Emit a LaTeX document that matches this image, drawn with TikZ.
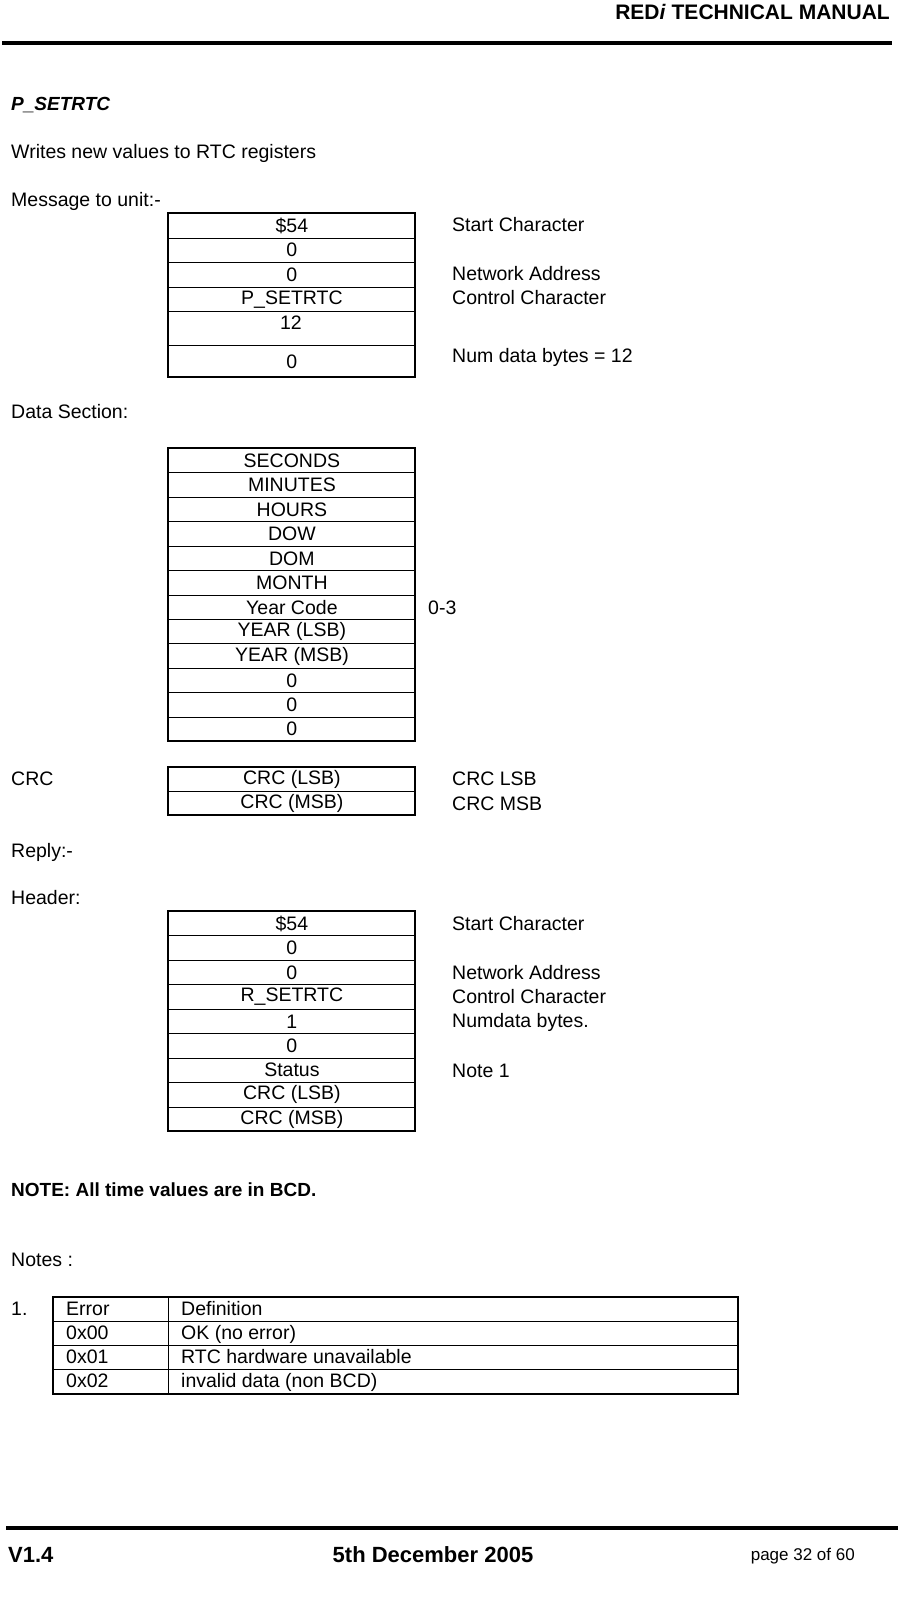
\documentclass[tikz,border=0pt]{standalone}
\usepackage{fontspec}
\setmainfont{Liberation Sans}
\begin{document}
\begin{tikzpicture}[x=1pt,y=-1pt,
  txt/.style={anchor=west,inner sep=0pt,font=\fontsize{19.5}{21}\selectfont},
  cell/.style={draw,line width=0.8pt,minimum width=247pt,anchor=north west,inner sep=0pt,font=\fontsize{19.5}{21}\selectfont},
  frame/.style={draw,line width=1.6pt},
  rule/.style={line width=4pt}]
% header
\node[anchor=east,inner sep=0pt,font=\bfseries\fontsize{21}{23}\selectfont] (hd) at (890,12) {RED\textit{i} TECHNICAL MANUAL};
\draw[rule] (2,43) -- (892,43);
\node[txt,font=\bfseries\itshape\fontsize{19}{21}\selectfont] (t1) at (11,105) {P\_SETRTC};
\node[txt] (t2) at (11,153) {Writes new values to RTC registers};
\node[txt] (t3) at (11,201) {Message to unit:-};
% table 1
\foreach \y/\h/\t [count=\i] in {213/24.5/\$54,237.5/24.5/0,262/24.5/0,286.5/24.5/P\_SETRTC}
  \node[cell,minimum height=\h] (a\i) at (168,\y) {\t};
\node[cell,minimum height=34pt,anchor=north west] (a5) at (168,311) {};
\node[txt,anchor=center] (a5t) at (291,323) {12};
\node[cell,minimum height=32pt] (a6) at (168,345) {0};
\draw[frame] (168,213) rectangle (415,377);
\node[txt] (l1) at (452,225) {Start Character};
\node[txt] (l2) at (452,274) {Network Address};
\node[txt] (l3) at (452,298) {Control Character};
\node[txt] (l4) at (452,357) {Num data bytes = 12};
\node[txt] (t4) at (11,412) {Data Section:};
% data
\foreach \t [count=\i] in {SECONDS,MINUTES,HOURS,DOW,DOM,MONTH,Year Code,YEAR (LSB),YEAR (MSB),0,0,0}
  \node[cell,minimum height=24.42pt] (d\i) at (168,{448+(\i-1)*24.42}) {\t};
\draw[frame] (168,448) rectangle (415,741);
\node[txt] (l5) at (428,608) {0-3};
% CRC
\node[txt] (t5) at (11,779) {CRC};
\node[cell,minimum height=24pt] (c1) at (168,767) {CRC (LSB)};
\node[cell,minimum height=24pt] (c2) at (168,791) {CRC (MSB)};
\draw[frame] (168,767) rectangle (415,815);
\node[txt] (l6) at (452,779) {CRC LSB};
\node[txt] (l7) at (452,804) {CRC MSB};
\node[txt] (t6) at (11,852) {Reply:-};
\node[txt] (t7) at (11,898) {Header:};
% reply
\foreach \t [count=\i] in {\$54,0,0,R\_SETRTC,1,0,Status,CRC (LSB),CRC (MSB)}
  \node[cell,minimum height=24.44pt] (r\i) at (168,{911+(\i-1)*24.44}) {\t};
\draw[frame] (168,911) rectangle (415,1131);
\node[txt] (l8) at (452,924) {Start Character};
\node[txt] (l9) at (452,973) {Network Address};
\node[txt] (l10) at (452,997) {Control Character};
\node[txt] (l11) at (452,1022) {Numdata bytes.};
\node[txt] (l12) at (452,1071) {Note 1};
\node[txt,font=\bfseries\fontsize{19}{21}\selectfont] (t8) at (11,1190) {NOTE: All time values are in BCD.};
\node[txt] (t9) at (11,1260) {Notes :};
\node[txt] (t10) at (11,1309) {1.};
% notes table
\foreach \a/\b [count=\i] in {Error/Definition,0x00/OK (no error),0x01/RTC hardware unavailable,0x02/invalid data (non BCD)}{
  \draw[line width=0.8pt] (53,{1297+(\i-1)*24.25}) rectangle (738,{1297+\i*24.25});
  \node[txt,anchor=base west] (n\i a) at (66,{1315+(\i-1)*24.25}) {\a};
  \node[txt,anchor=base west] (n\i b) at (181,{1315+(\i-1)*24.25}) {\b};
}
\draw[line width=0.8pt] (168,1297) -- (168,1394);
\draw[frame] (53,1297) rectangle (738,1394);
% footer
\draw[rule] (6,1528) -- (898,1528);
\node[txt,font=\bfseries\fontsize{22}{24}\selectfont] (f1) at (8,1555) {V1.4};
\node[txt,anchor=center,font=\bfseries\fontsize{22}{24}\selectfont] (f2) at (433,1555) {5th December 2005};
\node[txt,anchor=east,font=\fontsize{17}{19}\selectfont] (f3) at (855,1556) {page 32 of 60};
\pgfresetboundingbox
\useasboundingbox (0,0) rectangle (918,1599);
\end{tikzpicture}
\end{document}
